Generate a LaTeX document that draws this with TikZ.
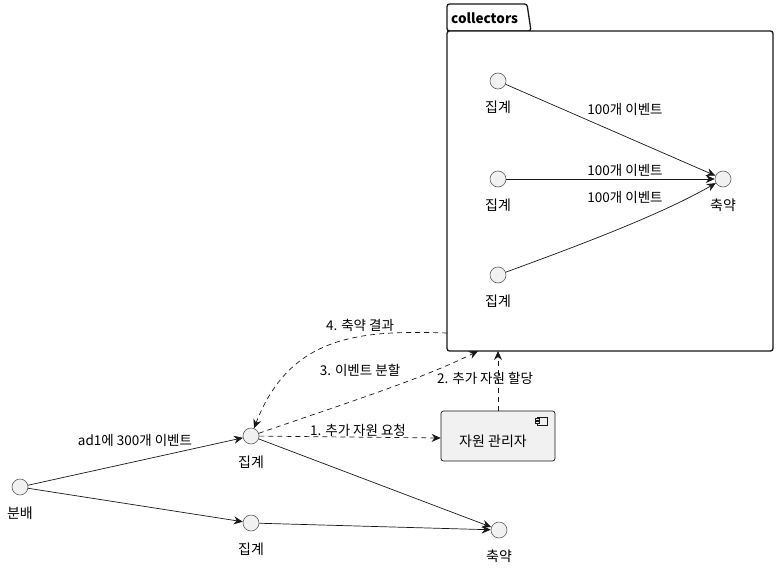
\documentclass[tikz,border=0pt]{standalone}
\usepackage{fontspec}
\setmainfont{Noto Sans CJK KR}
\usetikzlibrary{arrows.meta}
\definecolor{ink}{HTML}{181818}
\definecolor{fillg}{HTML}{F1F1F1}
\tikzset{
  circ/.style={circle,draw=ink!70,fill=fillg,minimum size=16pt,inner sep=0pt,line width=0.6pt},
  nlabel/.style={font=\fontsize{14}{16}\selectfont,text=black,inner sep=0pt},
  elabel/.style={font=\fontsize{13.5}{15}\selectfont,text=black,inner sep=0pt},
  conn/.style={draw=ink,line width=0.7pt,-{Stealth[length=9pt,width=8pt,inset=3pt]}},
  dconn/.style={conn,dash pattern=on 5pt off 4pt},
  compbox/.style={draw=ink,fill=fillg,rounded corners=2.5pt,line width=0.7pt,minimum width=114pt,minimum height=50pt,inner sep=0pt}
}
\begin{document}
\begin{tikzpicture}[x=1pt,y=-1pt]
\useasboundingbox (0,0) rectangle (778,570);
% package
\draw[ink,line width=1.3pt,fill=white,rounded corners=2.5pt] (447,31) -- (447,4) -- (527,4) -- (531,31) -- cycle;
\draw[ink,line width=1.3pt,fill=white,rounded corners=2.5pt] (447,31) rectangle (773,351);
\node[font=\bfseries\fontsize{13.5}{15}\selectfont,anchor=west,inner sep=0pt] (pkgname) at (451,18) {collectors};
\coordinate (pkgA) at (498,351);
\coordinate (pkgB) at (478,351);
\coordinate (pkgC) at (447,333);
% inner nodes
\node[circ] (c1) at (498,81) {};
\node[nlabel] (c1l) at (498,107) {집계};
\node[circ] (c2) at (498,179) {};
\node[nlabel] (c2l) at (498,205) {집계};
\node[circ] (c3) at (498,275) {};
\node[nlabel] (c3l) at (498,301) {집계};
\node[circ] (r1) at (723,179) {};
\node[nlabel] (r1l) at (723,205) {축약};
\draw[conn] (c1) -- (r1);
\draw[conn] (c2) -- (r1);
\draw[conn] (c3) .. controls (580,245) and (660,215) .. (r1);
\node[elabel] (e1) at (625,109) {100개 이벤트};
\node[elabel] (e2) at (625,170) {100개 이벤트};
\node[elabel] (e3) at (625,197) {100개 이벤트};
% outer nodes
\node[circ] (dist) at (20,487) {};
\node[nlabel] (distl) at (20,513) {분배};
\node[circ] (ag1) at (251,436) {};
\node[nlabel] (ag1l) at (251,462) {집계};
\node[circ] (ag2) at (251,523) {};
\node[nlabel] (ag2l) at (251,549) {집계};
\node[circ] (rd) at (499,530) {};
\node[nlabel] (rdl) at (499,556) {축약};
\node[compbox] (rm) at (498,436) {};
\node[nlabel] (rml) at (493,441) {자원 관리자};
% component icon
\draw[ink,line width=0.5pt,fill=fillg] (537,417) rectangle (547,425);
\draw[ink,line width=0.5pt,fill=fillg] (535,418.5) rectangle (539,420.5);
\draw[ink,line width=0.5pt,fill=fillg] (535,421.5) rectangle (539,423.5);
% edges
\draw[conn] (dist) -- (ag1);
\node[elabel] (ea) at (135,440) {ad1에 300개 이벤트};
\draw[conn] (dist) -- (ag2);
\draw[conn] (ag1) -- (rd);
\draw[conn] (ag2) -- (rd);
\draw[dconn] (ag1) -- (rm.west |- 0,438);
\node[elabel] (l1) at (358,430) {1. 추가 자원 요청};
\draw[dconn] (rm.north) -- (pkgA);
\node[elabel] (l2) at (485,378) {2. 추가 자원 할당};
\draw[dconn] (ag1) .. controls (340,405) and (420,380) .. (pkgB);
\node[elabel] (l3) at (360,370) {3. 이벤트 분할};
\draw[dconn] (pkgC) .. controls (360,330) and (290,335) .. (ag1);
\node[elabel] (l4) at (360,325) {4. 축약 결과};
\end{tikzpicture}
\end{document}
